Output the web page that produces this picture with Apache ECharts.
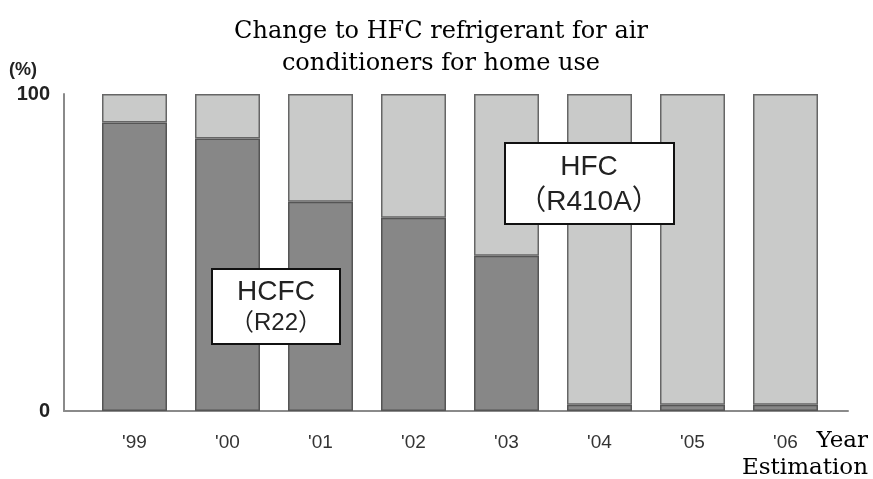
<!DOCTYPE html>
<html>
<head>
<meta charset="utf-8">
<script src="https://cdn.jsdelivr.net/npm/echarts@6/dist/echarts.min.js"></script>
<style>
  html, body { margin: 0; padding: 0; background: #fff; }
  #chart { width: 873px; height: 479px; }
</style>
</head>
<body>
<div id="chart"></div>
<script>
// Shares of refrigerant types in home air conditioners (%)
const years = ["'99", "'00", "'01", "'02", "'03", "'04", "'05", "'06"];
const hcfc = [91, 86, 66, 61, 49, 2, 2, 2];
const hfc = [9, 14, 34, 39, 51, 98, 98, 98];
const yTicks = [0, 100];

const sansFont = 'Liberation Sans, Noto Sans CJK JP, sans-serif';
const serifFont = 'DejaVu Serif, serif';

const chart = echarts.init(document.getElementById('chart'));

chart.setOption({
  animation: false,
  backgroundColor: '#fff',
  title: {
    text: 'Change to HFC refrigerant for air\nconditioners for home use',
    left: 436,
    top: 11,
    textAlign: 'center',
    textStyle: {
      fontFamily: serifFont,
      fontWeight: 'normal',
      fontSize: 24,
      lineHeight: 32,
      color: '#000'
    }
  },
  grid: [
    { left: 64, right: 25, top: 94, bottom: 68 },
    { left: 88, width: 744, top: 94, bottom: 68 }
  ],
  xAxis: [
    {
      gridIndex: 0, type: 'value', min: 0, max: 1,
      axisLine: { show: true, lineStyle: { color: '#8a8a8a', width: 2 } },
      axisTick: { show: false }, axisLabel: { show: false }, splitLine: { show: false }
    },
    {
      gridIndex: 1, type: 'category', data: years,
      axisLine: { show: false }, axisTick: { show: false },
      axisLabel: {
        margin: 22, fontFamily: sansFont, fontSize: 19, color: '#333'
      }
    }
  ],
  yAxis: [
    {
      gridIndex: 0, type: 'value', min: yTicks[0], max: yTicks[1], interval: 100,
      axisLine: { show: true, lineStyle: { color: '#8a8a8a', width: 2 } },
      axisTick: { show: false }, splitLine: { show: false },
      axisLabel: { margin: 14, fontFamily: sansFont, fontSize: 20, fontWeight: 'bold', color: '#222' }
    },
    {
      gridIndex: 1, type: 'value', min: 0, max: 100, show: false
    }
  ],
  series: [
    {
      name: 'HCFC', type: 'bar', stack: 'share', xAxisIndex: 1, yAxisIndex: 1,
      barWidth: 65, data: hcfc,
      itemStyle: { color: '#878787', borderColor: '#555', borderWidth: 1.5 }
    },
    {
      name: 'HFC', type: 'bar', stack: 'share', xAxisIndex: 1, yAxisIndex: 1,
      barWidth: 65, data: hfc,
      itemStyle: { color: '#c9cac9', borderColor: '#666', borderWidth: 1.5 }
    }
  ],
  graphic: [
    {
      type: 'text', left: 9, top: 61, z: 100,
      style: { text: '(%)', fontFamily: sansFont, fontSize: 18, fontWeight: 'bold', fill: '#222' }
    },
    {
      type: 'text', right: 5, top: 430, z: 100,
      style: { text: 'Year', fontFamily: serifFont, fontSize: 23, fill: '#000' }
    },
    {
      type: 'text', right: 5, top: 457, z: 100,
      style: { text: 'Estimation', fontFamily: serifFont, fontSize: 23, fill: '#000' }
    },
    {
      type: 'group', left: 211, top: 268, z: 100,
      children: [
        { type: 'rect', z: 100, shape: { x: 0, y: 0, width: 128, height: 75 },
          style: { fill: '#fff', stroke: '#111', lineWidth: 2 } },
        { type: 'text', z: 101, x: 64, y: 23,
          style: { text: 'HCFC', fontFamily: sansFont, fontSize: 28, fill: '#222',
                   align: 'center', verticalAlign: 'middle' } },
        { type: 'text', z: 101, x: 64, y: 54,
          style: { text: '（R22）', fontFamily: sansFont, fontSize: 24, fill: '#222',
                   align: 'center', verticalAlign: 'middle' } }
      ]
    },
    {
      type: 'group', left: 504, top: 142, z: 100,
      children: [
        { type: 'rect', z: 100, shape: { x: 0, y: 0, width: 169, height: 81 },
          style: { fill: '#fff', stroke: '#111', lineWidth: 2 } },
        { type: 'text', z: 101, x: 84, y: 24,
          style: { text: 'HFC', fontFamily: sansFont, fontSize: 28, fill: '#222',
                   align: 'center', verticalAlign: 'middle' } },
        { type: 'text', z: 101, x: 84, y: 59,
          style: { text: '（R410A）', fontFamily: sansFont, fontSize: 28, fill: '#222',
                   align: 'center', verticalAlign: 'middle' } }
      ]
    }
  ]
});
</script>
</body>
</html>
